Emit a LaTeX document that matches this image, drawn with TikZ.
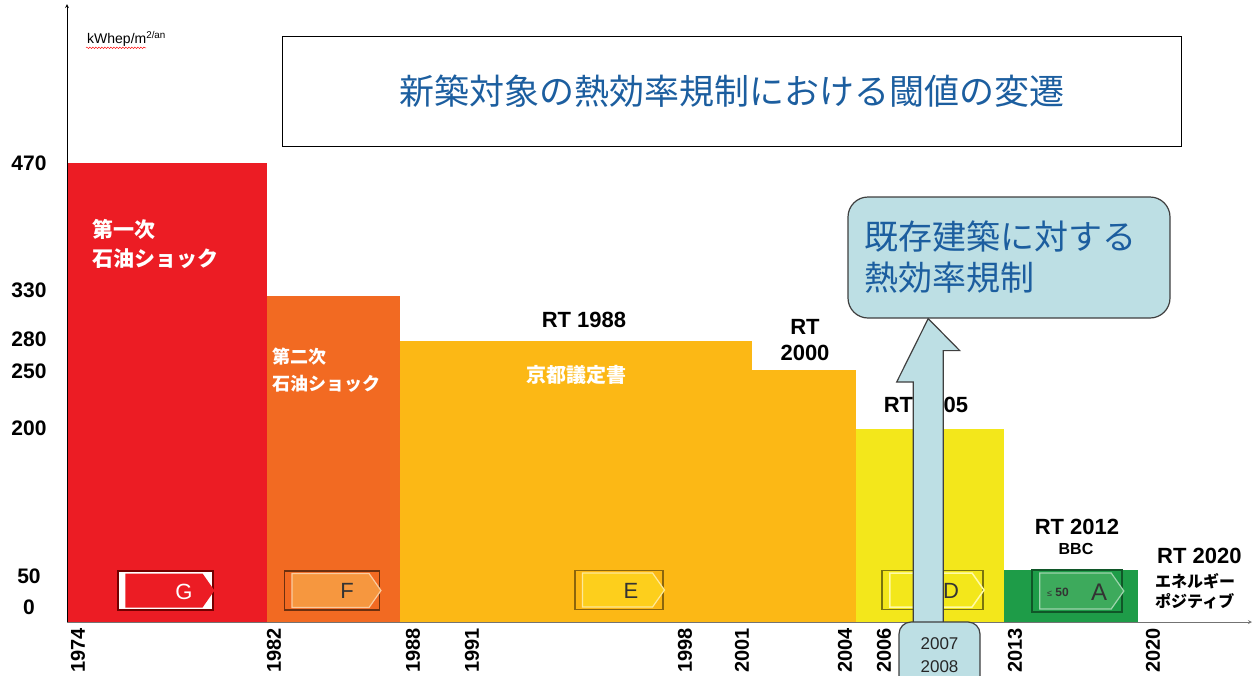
\documentclass[tikz,border=0pt]{standalone}
\usepackage{fontspec}
\setmainfont{Liberation Sans}
\newfontfamily\jp{Noto Sans CJK JP}
\usepackage{tikz}
\usetikzlibrary{shapes.symbols, calc, decorations.pathmorphing}

\definecolor{barred}{HTML}{EC1C24}
\definecolor{barorange}{HTML}{F26A22}
\definecolor{baramber}{HTML}{FCB815}
\definecolor{baryellow}{HTML}{F3E71B}
\definecolor{bargreen}{HTML}{1E9C48}
\definecolor{tagorange}{HTML}{F6973F}
\definecolor{tagamber}{HTML}{FDCF1C}
\definecolor{taggreen}{HTML}{3DAA5C}
\definecolor{titleblue}{HTML}{1C5E9F}
\definecolor{callfill}{HTML}{BDDFE4}
\definecolor{callline}{HTML}{3F3F3F}

\tikzstyle{axis} = [line width=0.8pt, ->, >=stealth]
\tikzstyle{ylab} = [font=\bfseries\fontsize{21}{21}\selectfont, inner sep=0pt]
\tikzstyle{yearlab} = [rotate=90, anchor=east, inner sep=0pt, font=\bfseries\fontsize{20}{20}\selectfont]
\tikzstyle{rtlab} = [font=\bfseries\fontsize{22}{26}\selectfont, align=center, inner sep=0pt]
\tikzstyle{shock} = [anchor=west, align=left, text=white, inner sep=0pt]
\tikzstyle{ebox} = [rectangle, minimum width=95pt, minimum height=39pt, line width=1.5pt, inner sep=0pt]
\tikzstyle{etag} = [signal, signal to=east, signal pointer angle=110, minimum width=89pt, minimum height=34pt, inner sep=0pt, line width=1.2pt]
\tikzstyle{eletter} = [font=\fontsize{22}{22}\selectfont, inner sep=0pt, text=black!80]
\tikzstyle{bluebox} = [fill=callfill, draw=callline, line width=1.2pt]

\begin{document}
\begin{tikzpicture}[x=1pt, y=-1pt]
\useasboundingbox (0,0) rectangle (1255,675);

% bars
\foreach \xa/\xb/\yt/\col in {67/267/163/barred, 267/400/296/barorange, 400/752/341/baramber, 752/856/370/baramber, 856/1004/429/baryellow, 1004/1138/570/bargreen}
  \fill [\col] (\xa,\yt) rectangle (\xb,622);

% axes
\coordinate (o) at (67,622);
\draw [axis] (o) -- (67,4);
\draw [axis, black!55] (o) -- (1252,622);
\node (unit) [anchor=west, inner sep=1pt, font=\fontsize{14}{14}\selectfont] at (86,39) {kWhep/m\textsuperscript{2/an}};
\draw [red, decorate, decoration={snake, amplitude=0.8pt, segment length=3pt}] (unit.south west) -- ++(60,0);

\foreach \v/\y in {470/163, 330/290, 280/339, 250/371, 200/428, 50/576, 0/607}
  \node (y\v) [ylab] at (29,\y) {\v};
\foreach \yr/\x in {1974/78, 1982/274, 1988/413, 1991/472, 1998/685, 2001/742, 2004/845, 2006/884, 2013/1015, 2020/1153}
  \node (yr\yr) [yearlab] at (\x,628) {\yr};

% title
\node (title) [draw, line width=1pt, minimum width=899pt, minimum height=110pt, text=titleblue, font=\jp\fontsize{35}{35}\selectfont] at (731.5,91) {新築対象の熱効率規制における閾値の変遷};

% texts on the bars
\node (shock1) [shock, font=\jp\bfseries\fontsize{21}{29}\selectfont] at (92,244) {第一次\\石油ショック};
\node (shock2) [shock, font=\jp\bfseries\fontsize{18}{27}\selectfont] at (272,370) {第二次\\石油ショック};
\node (kyoto) [text=white, inner sep=0pt, font=\jp\bfseries\fontsize{20}{20}\selectfont] at (576,375) {京都議定書};
\node (rt1988) [rtlab] at (584,320) {RT 1988};
\node (rt2000) [rtlab] at (805,340) {RT\\2000};
\node (rt2005) [rtlab] at (926,405) {RT 2005};
\node (rt2012) [rtlab] at (1077,527) {RT 2012};
\node (bbc) [font=\bfseries\fontsize{16}{16}\selectfont, inner sep=0pt] at (1076,549) {BBC};
\node (rt2020) [rtlab, anchor=west] at (1157,556) {RT 2020};
\node (epos) [anchor=west, align=left, inner sep=0pt, font=\jp\bfseries\fontsize{16}{20}\selectfont] at (1155,591) {エネルギー\\ポジティブ};

% energy labels
\node (gbox) [ebox, fill=white, draw=red!45!black] at (165.5,590.5) {};
\node (gtag) [etag, fill=barred] at (164,590.5) {};
\node (gl) [eletter, text=white] at (184,592) {G};

\node (fbox) [ebox, fill=barorange, draw=barorange!45!black] at (332,590.5) {};
\node (ftag) [etag, fill=tagorange, draw=tagorange!50!white] at (330.5,590.5) {};
\node (fl) [eletter] at (347,591) {F};

\node (ebx) [ebox, minimum width=88pt, fill=baramber, draw=baramber!55!black] at (619,590) {};
\node (etg) [etag, minimum width=82pt, fill=tagamber, draw=tagamber!45!white] at (617.5,590) {};
\node (el) [eletter] at (631,591) {E};

\node (dbox) [ebox, minimum width=101pt, fill=baryellow, draw=baryellow!50!black] at (932.5,590) {};
\node (dtag) [etag, minimum width=94pt, draw=yellow!35!white, line width=1.5pt] at (931,590) {};
\node (dl) [eletter] at (951,591) {D};

\node (abox) [ebox, minimum width=90pt, minimum height=42pt, fill=bargreen, draw=bargreen!55!black] at (1077,591) {};
\node (atag) [etag, minimum width=84pt, minimum height=36pt, fill=taggreen, draw=taggreen!50!white] at (1075.5,591) {};
\node (al) [eletter, font=\fontsize{24}{24}\selectfont] at (1099,592) {A};
\node (a50) [inner sep=0pt, text=black!80, font=\bfseries\fontsize{12}{12}\selectfont] at (1058,592) {{\mdseries\fontsize{9}{9}\selectfont ≤} 50};

% existing buildings
\node (callout) [bluebox, rounded corners=20pt, minimum width=322pt, minimum height=121pt, text width=290pt, inner xsep=16pt, align=left, text=titleblue, font=\jp\fontsize{34}{41}\selectfont] at (1009,257.5) {既存建築に対する\\熱効率規制};
\coordinate (tip) at ($(callout.south west)!0.25!(callout.south east)$);
\coordinate (foot) at (939.5,655);
\draw [bluebox] (tip) -- ++(31.5,32) -- ++(-16.5,0) -- (foot -| {$(tip)+(15,0)$}) -- (foot -| {$(tip)+(-15,0)$}) -- ++(0,-273) -- ++(-16.5,0) -- cycle;
\node (yrbox) [bluebox, rounded corners=12pt, minimum width=81pt, minimum height=66pt, align=center, text=black!85, font=\fontsize{17}{23}\selectfont] at (foot) {2007\\2008};
\end{tikzpicture}
\end{document}
